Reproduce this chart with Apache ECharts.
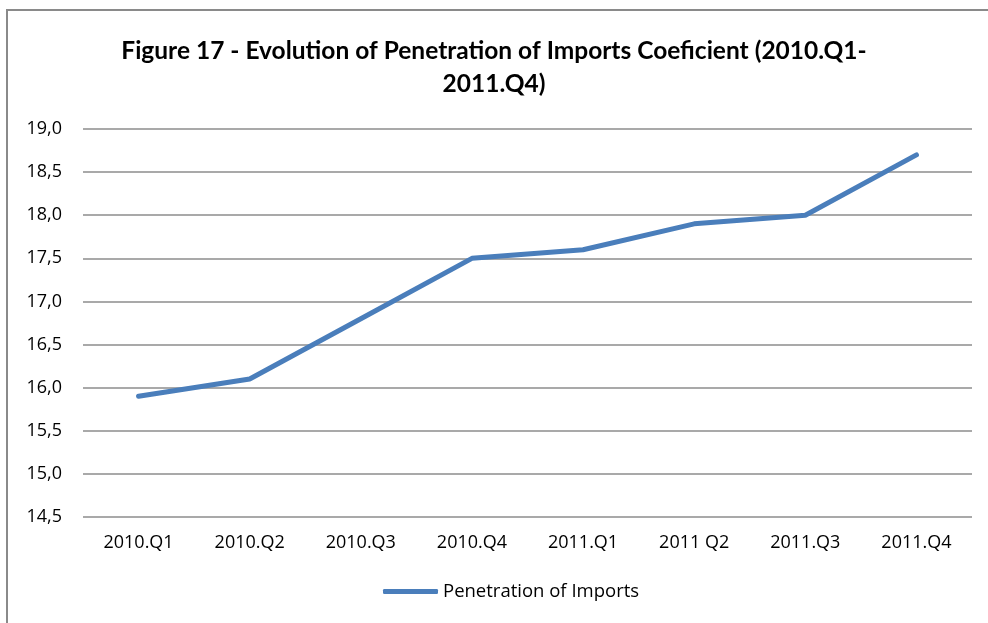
<!DOCTYPE html>
<html>
<head>
<meta charset="utf-8">
<script src="https://cdn.jsdelivr.net/npm/echarts@6/dist/echarts.min.js"></script>
<style>
  html, body { margin: 0; padding: 0; background: #fff; }
  #chart { width: 988px; height: 623px; }
</style>
</head>
<body>
<div id="chart"></div>
<script>
const categories = ['2010.Q1', '2010.Q2', '2010.Q3', '2010.Q4', '2011.Q1', '2011 Q2', '2011.Q3', '2011.Q4'];
const penetration = [15.9, 16.1, 16.8, 17.5, 17.6, 17.9, 18.0, 18.7];
const seriesName = 'Penetration of Imports';
const titleText = 'Figure 17 - Evolution of Penetration of Imports Coeficient (2010.Q1-\n2011.Q4)';

const chart = echarts.init(document.getElementById('chart'));
chart.setOption({
  backgroundColor: '#fff',
  animation: false,
  title: {
    text: titleText,
    left: 'center',
    top: 30,
    textStyle: {
      fontFamily: 'Lato',
      fontWeight: 'bold',
      fontSize: 24.5,
      lineHeight: 33,
      color: '#000'
    }
  },
  graphic: [{
    type: 'rect',
    shape: { x: 7, y: 10, width: 1000, height: 700 },
    style: { fill: 'none', stroke: '#8a8a8a', lineWidth: 2 },
    silent: true
  }],
  legend: {
    bottom: 17,
    left: 378,
    itemWidth: 55,
    itemHeight: 5,
    itemGap: 10,
    icon: 'roundRect',
    textStyle: { fontFamily: 'Open Sans', fontSize: 18.5, color: '#000' },
    data: [seriesName]
  },
  grid: { left: 83, right: 16, top: 129, bottom: 106 },
  xAxis: {
    type: 'category',
    data: categories,
    boundaryGap: true,
    axisLine: { show: false },
    axisTick: { show: false },
    axisLabel: { fontFamily: 'Open Sans', fontSize: 18, color: '#000', margin: 17 }
  },
  yAxis: {
    type: 'value',
    min: 14.5,
    max: 19,
    interval: 0.5,
    axisLine: { show: false },
    axisTick: { show: false },
    splitLine: { lineStyle: { color: '#8c8c8c', width: 1.5 } },
    axisLabel: {
      fontFamily: 'Open Sans',
      fontSize: 18,
      color: '#000',
      margin: 21,
      formatter: v => v.toFixed(1).replace('.', ',')
    }
  },
  series: [{
    name: seriesName,
    type: 'line',
    data: penetration,
    symbol: 'none',
    lineStyle: { color: '#4a7ebb', width: 5, cap: 'round' },
    itemStyle: { color: '#4a7ebb' }
  }]
});
</script>
</body>
</html>
